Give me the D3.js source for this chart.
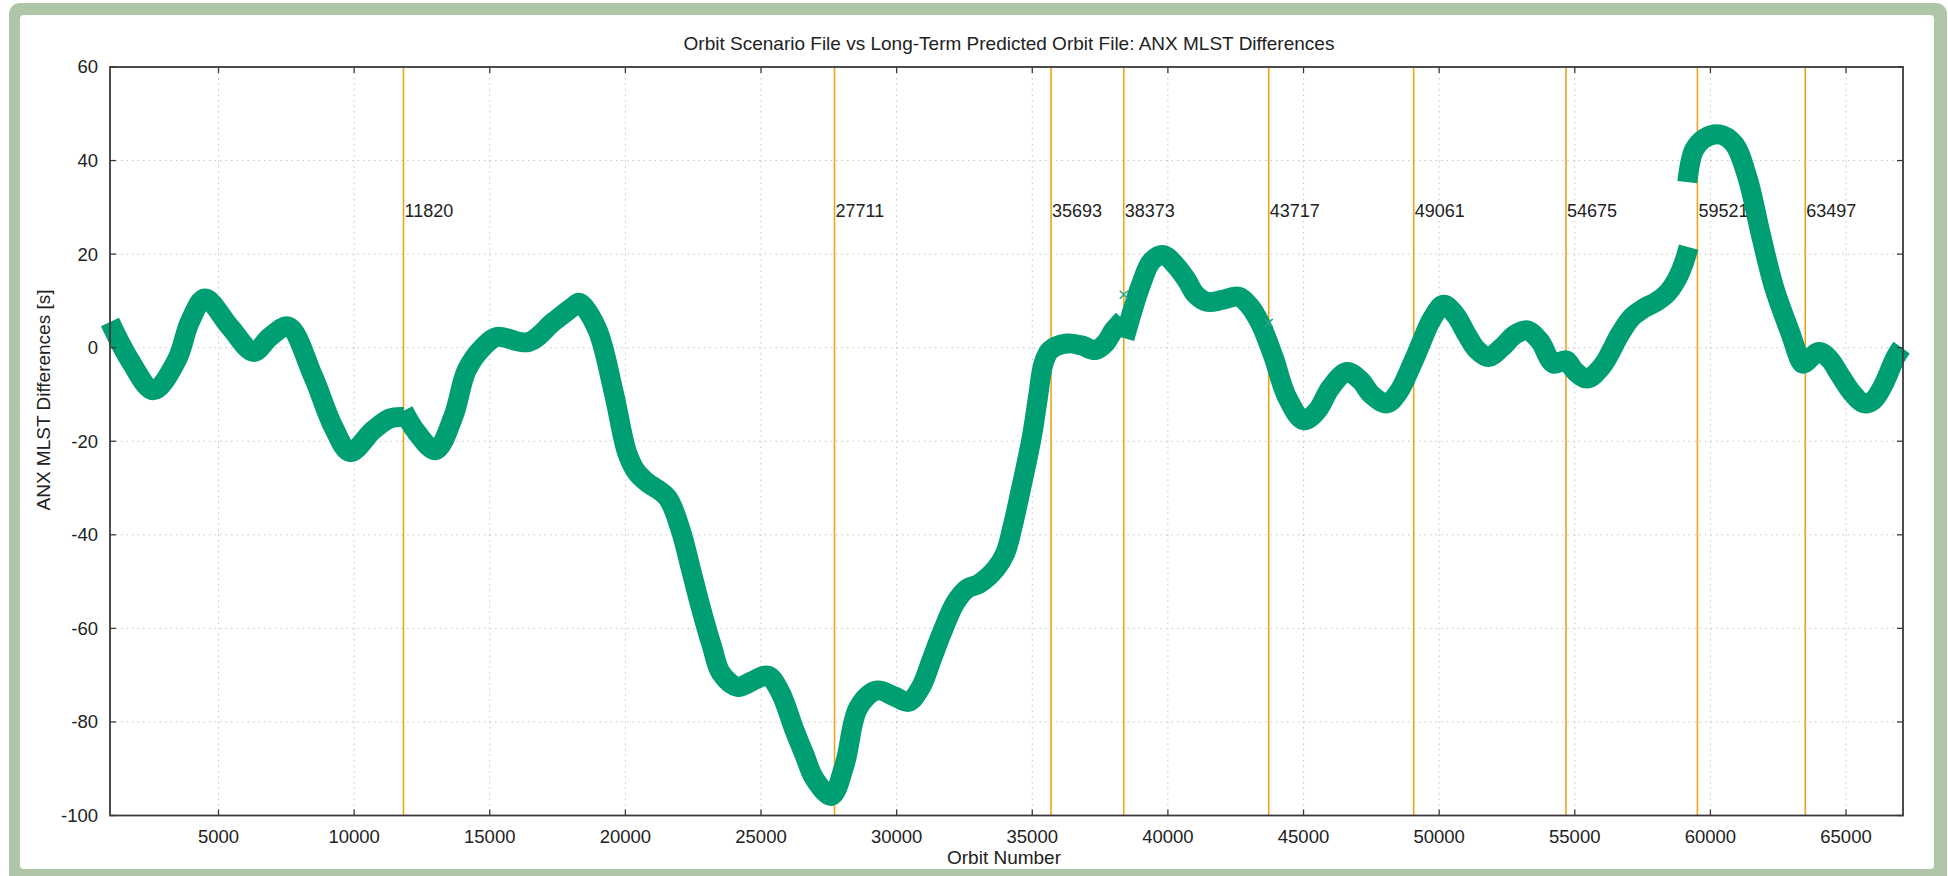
<!DOCTYPE html>
<html lang="en">
<head>
<meta charset="UTF-8">
<title>ANX MLST Differences</title>
<script src="https://d3js.org/d3.v7.min.js"></script>
<style>
  html, body { margin: 0; padding: 0; background: #fff; }
  svg { display: block; font-family: "Liberation Sans", Arial, sans-serif; }
</style>
</head>
<body>
<svg id="chart" width="1948" height="876"></svg>
<script>
// orbit numbers where a new file starts (vertical markers)
const eventOrbits = [11820, 27711, 35693, 38373, 43717, 49061, 54675, 59521, 63497];
const eventLabelLevel = 29.2;

const xTicks = [5000, 10000, 15000, 20000, 25000, 30000, 35000, 40000, 45000, 50000, 55000, 60000, 65000];
const yTicks = [-100, -80, -60, -40, -20, 0, 20, 40, 60];

// sampled band of the ANX MLST difference (null = break between files)
const orbitNumbers = [
  1000, 1737, 2600, 3459, 3950, 4500, 5424, 6300, 6899, 7575, 8496, 9233, 9850, 10708, 11324, 11820,
  null,
  11820, 12307, 13000, 13658, 14151, 14764, 15257, 16424, 17345, 18083, 18300, 18950, 19568, 20062,
  20400, 20800, 21544, 22038, 22400, 22779, 23200, 23520, 24137, 24700, 25249, 25700, 26237, 26600,
  26978, 27595, 28089, 28583, 29262, 29900, 30436, 30900, 31300, 31700, 32165, 32600, 33029, 33647,
  34000, 34264, 34554, 34986, 35200, 35414, 35661, 36275, 36800, 37320, 37700, 37996, 38350,
  null,
  38400, 38700, 38979, 39400, 39839, 40300, 40700, 41000, 41437, 42000, 42604, 43000, 43404, 43896,
  44388, 45003, 45500, 46000, 46600, 47100, 47500, 48075, 48500, 48995, 49300, 49700, 50164, 50600,
  51000, 51400, 51823, 52300, 52800, 53238, 53700, 54220, 54675, 55000, 55450, 56000, 56678, 57100,
  57538, 58000, 58400, 58750, 59013, 59197,
  null,
  59148, 59393, 59762, 60315, 60868, 61360, 61851, 62343, 62958, 63388, 63497, 64003, 64400, 64740,
  65200, 65662, 66000, 66338, 66830, 67050
];
const mlstDiffs = [
  5.5, -2.7, -9.1, -2.7, 5.6, 10.5, 4.4, -0.9, 2.3, 4.5, -6.2, -16.9, -22.3, -17.6, -15.1, -14.8,
  null,
  -13.5, -18.1, -21.9, -14.7, -4.8, 0.2, 2.3, 1.2, 5.5, 8.8, 9.6, 4.1, -9.5, -22.4,
  -26.5, -28.8, -32, -39, -47, -55.5, -64, -69.5, -72.5, -71.2, -70.1, -73.5, -81.8, -87,
  -92.2, -95.8, -89, -77, -73.3, -74.5, -75.7, -72.5, -66.5, -60.5, -54.5, -51.5, -50.5, -47.3,
  -44, -38.5, -31, -19, -11, -3.4, -0.5, 0.9, 0.5, -0.5, 1, 3.7, 6,
  null,
  2, 8, 13, 18.5, 19.8, 17.5, 14.4, 11.5, 9.8, 10.2, 10.9, 9, 5.2, -2,
  -10.5, -15.5, -13.5, -8.5, -5.2, -7, -10, -11.9, -9.5, -3.6, 0.5, 5.8, 9.2, 7,
  3, -0.5, -2, 0, 2.8, 3.7, 1.5, -3.4, -2.7, -5, -6.6, -4, 3, 6.5,
  8.4, 9.8, 11.6, 14.5, 18, 21.5,
  null,
  35.4, 42.2, 44.7, 45.6, 43.6, 36.5, 24.4, 13, 3, -3.4, -3.2, -0.9, -2.5, -5.5,
  -9.5, -11.9, -11.3, -8.4, -2, 0
];

// single stray samples drawn as crosses
const outlierOrbits = [38373, 43717];
const outlierDiffs = [11.3, 5.3];

const svg = d3.select('#chart');

// green frame around the figure
svg.append('rect').attr('x', 9).attr('y', 3).attr('width', 1938).attr('height', 900)
  .attr('rx', 11).attr('fill', '#aec5a8');
svg.append('rect').attr('x', 20).attr('y', 15).attr('width', 1914).attr('height', 854)
  .attr('rx', 4).attr('fill', '#ffffff');

const plot = { left: 110, right: 1903, top: 67, bottom: 815.5 };

const x = d3.scaleLinear().domain([1000, 67100]).range([plot.left, plot.right]);
const y = d3.scaleLinear().domain([-100, 60]).range([plot.bottom, plot.top]);

// grid
const grid = svg.append('g').attr('stroke', '#c4c4c4').attr('stroke-width', 1)
  .attr('stroke-dasharray', '1.5,4');
grid.selectAll('line.gx').data(xTicks).join('line')
  .attr('x1', d => x(d)).attr('x2', d => x(d))
  .attr('y1', plot.top).attr('y2', plot.bottom);
grid.selectAll('line.gy').data(yTicks.slice(1, -1)).join('line')
  .attr('x1', plot.left).attr('x2', plot.right)
  .attr('y1', d => y(d)).attr('y2', d => y(d));

// file boundaries
svg.append('g').selectAll('line').data(eventOrbits).join('line')
  .attr('x1', d => x(d)).attr('x2', d => x(d))
  .attr('y1', plot.top).attr('y2', plot.bottom)
  .attr('stroke', '#eda520').attr('stroke-width', 1.6);

svg.append('g').selectAll('text').data(eventOrbits).join('text')
  .attr('x', d => x(d) + 1).attr('y', y(eventLabelLevel)).attr('dy', '0.35em')
  .attr('font-size', 18).attr('fill', '#222')
  .text(d => d);

// data band
const points = orbitNumbers.map((o, i) => ({ orbit: o, diff: mlstDiffs[i] }));
const line = d3.line()
  .x(d => x(d.orbit)).y(d => y(d.diff))
  .curve(d3.curveCatmullRom.alpha(0.5));

// split into segments, one per file
let segs = [[]];
points.forEach(p => { if (p.orbit == null) segs.push([]); else segs[segs.length - 1].push(p); });
svg.append('g').selectAll('path').data(segs).join('path')
  .attr('d', d => line(d))
  .attr('fill', 'none').attr('stroke', '#009e73')
  .attr('stroke-width', 20).attr('stroke-linejoin', 'round');

// stray crosses
const s = 4;
const crosses = svg.append('g').attr('stroke', '#2aa886').attr('stroke-width', 1.5);
outlierOrbits.forEach((o, i) => {
  const cx = x(o), cy = y(outlierDiffs[i]);
  crosses.append('path').attr('d', `M${cx - s},${cy - s}L${cx + s},${cy + s}M${cx - s},${cy + s}L${cx + s},${cy - s}`);
});

// axes (border with mirrored inward ticks)
const tickLen = 6;
const axes = svg.append('g').attr('stroke', '#3a3a3a').attr('stroke-width', 1.3);
axes.append('rect').attr('x', plot.left).attr('y', plot.top)
  .attr('width', plot.right - plot.left).attr('height', plot.bottom - plot.top)
  .attr('fill', 'none').attr('stroke-width', 1.8);
xTicks.forEach(t => {
  axes.append('line').attr('x1', x(t)).attr('x2', x(t)).attr('y1', plot.bottom).attr('y2', plot.bottom - tickLen);
  axes.append('line').attr('x1', x(t)).attr('x2', x(t)).attr('y1', plot.top).attr('y2', plot.top + tickLen);
});
yTicks.forEach(t => {
  axes.append('line').attr('x1', plot.left).attr('x2', plot.left + tickLen).attr('y1', y(t)).attr('y2', y(t));
  axes.append('line').attr('x1', plot.right).attr('x2', plot.right - tickLen).attr('y1', y(t)).attr('y2', y(t));
});

svg.append('g').selectAll('text').data(xTicks).join('text')
  .attr('x', d => x(d)).attr('y', plot.bottom + 21).attr('dy', '0.35em')
  .attr('text-anchor', 'middle').attr('font-size', 18.5).attr('fill', '#222')
  .text(d => d);

svg.append('g').selectAll('text').data(yTicks).join('text')
  .attr('x', plot.left - 12).attr('y', d => y(d)).attr('dy', '0.35em')
  .attr('text-anchor', 'end').attr('font-size', 18.5).attr('fill', '#222')
  .text(d => d);

// titles
svg.append('text').attr('x', 1009).attr('y', 43).attr('dy', '0.35em')
  .attr('text-anchor', 'middle').attr('font-size', 19).attr('fill', '#222')
  .text('Orbit Scenario File vs Long-Term Predicted Orbit File: ANX MLST Differences');

svg.append('text').attr('x', 1004).attr('y', 857).attr('dy', '0.35em')
  .attr('text-anchor', 'middle').attr('font-size', 19).attr('fill', '#222')
  .text('Orbit Number');

svg.append('text').attr('transform', 'translate(43,400) rotate(-90)').attr('dy', '0.35em')
  .attr('text-anchor', 'middle').attr('font-size', 19).attr('fill', '#222')
  .text('ANX MLST Differences [s]');
</script>
</body>
</html>
